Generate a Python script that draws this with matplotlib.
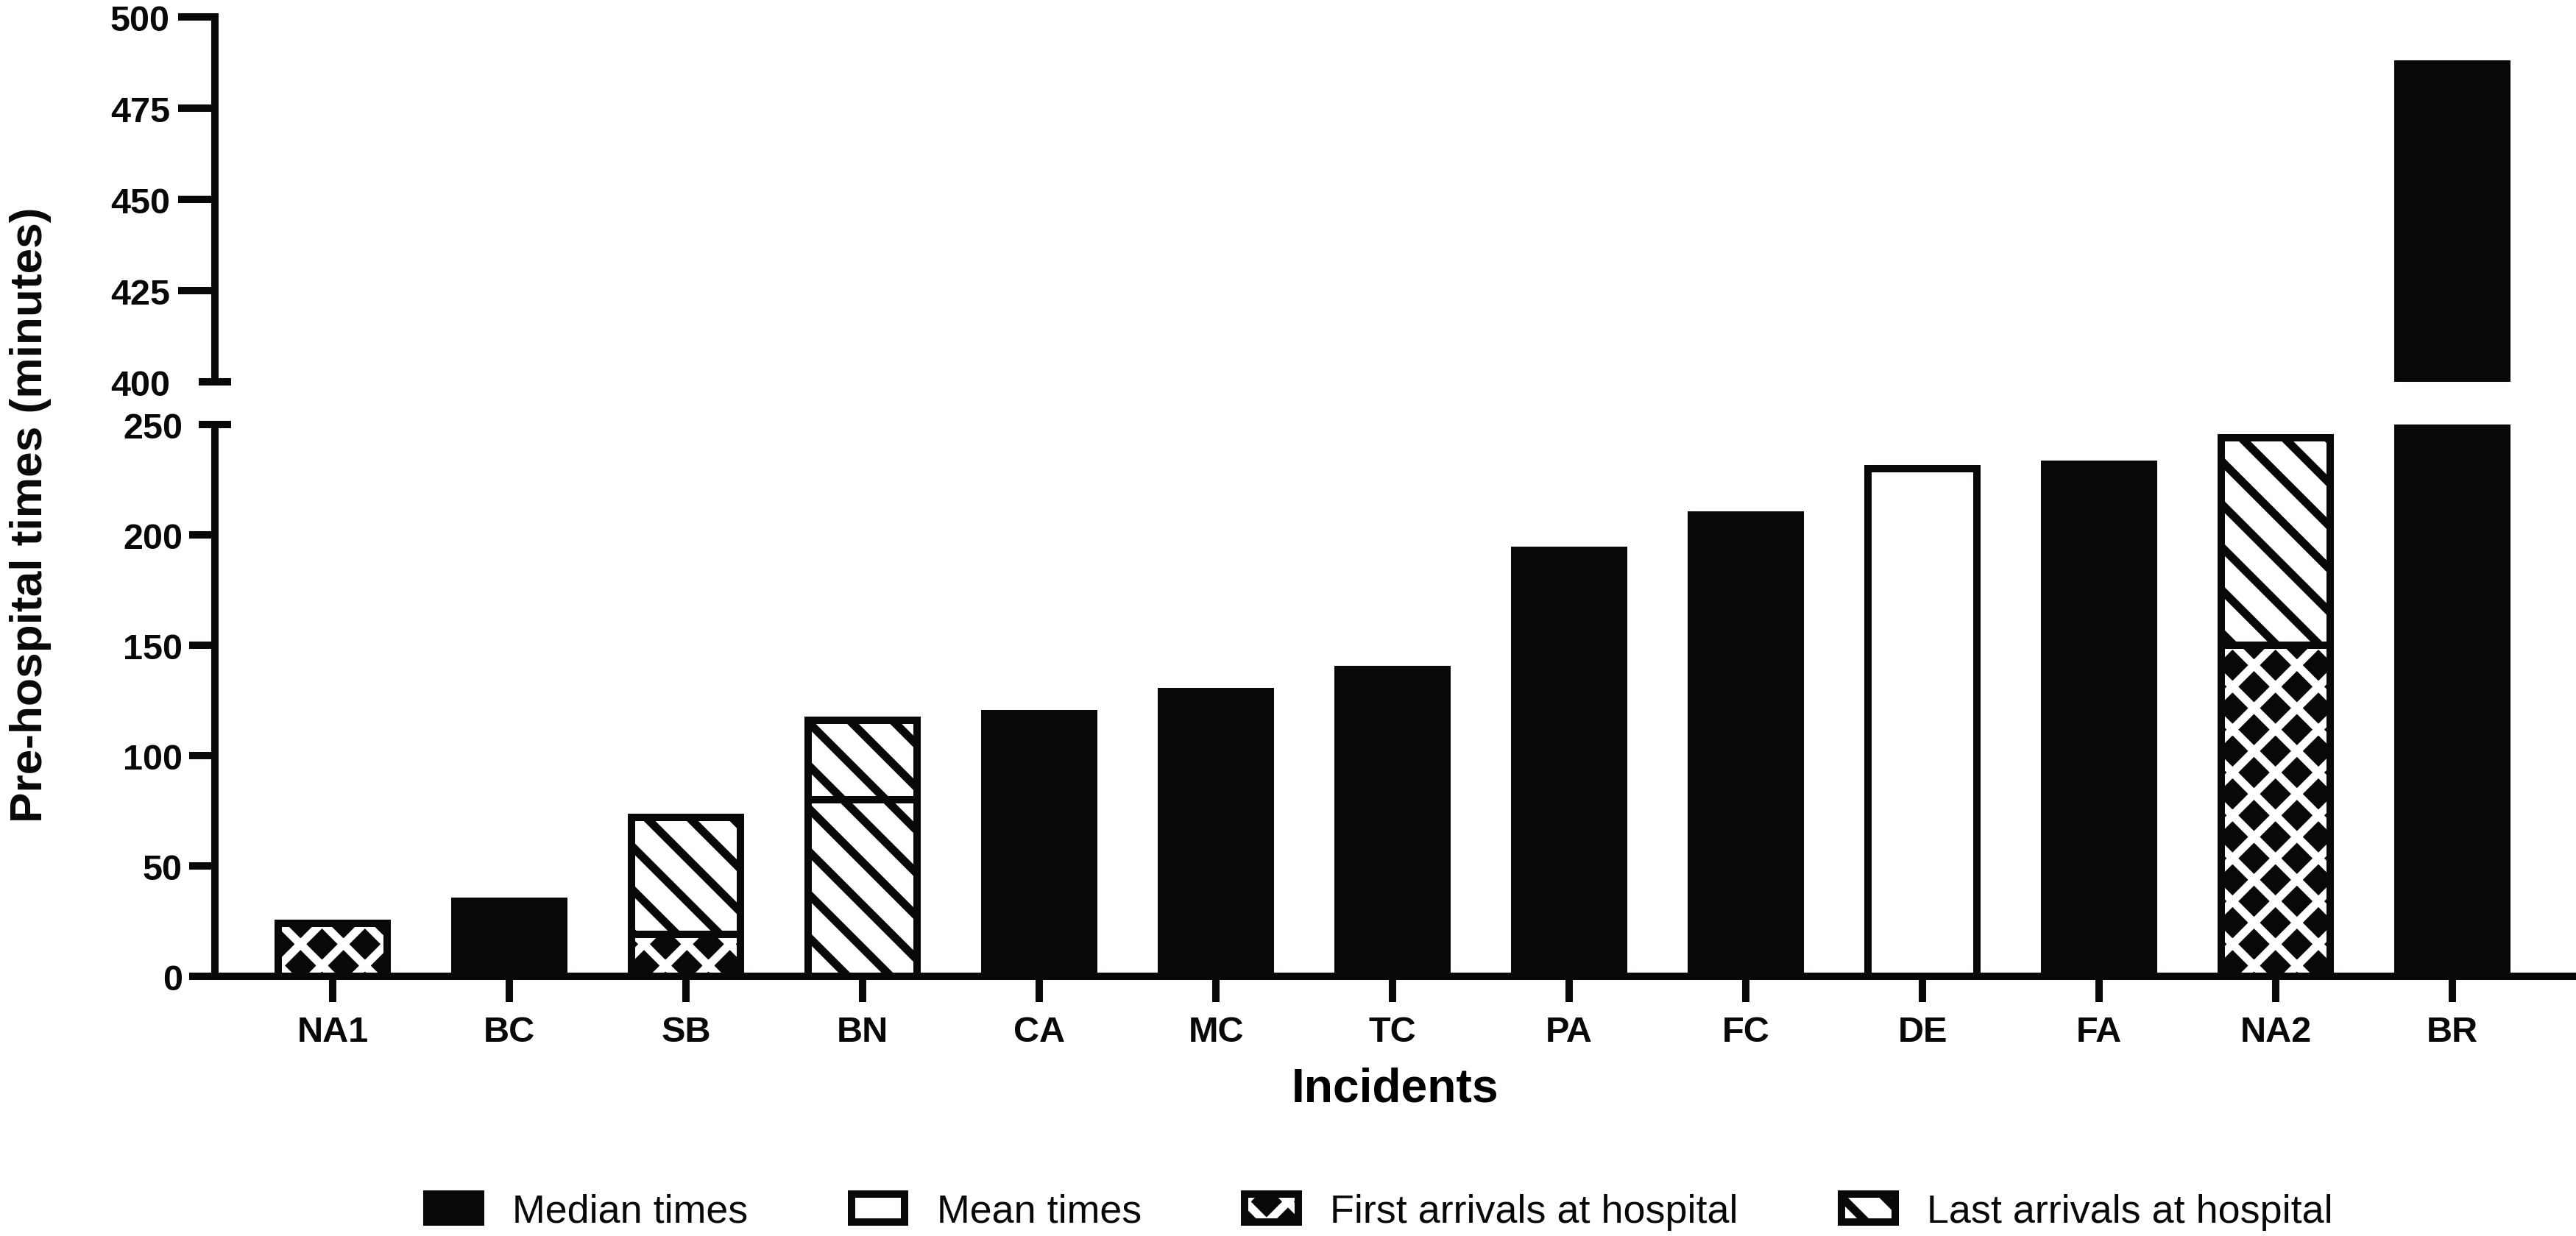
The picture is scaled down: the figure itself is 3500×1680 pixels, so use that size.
import numpy as np
import matplotlib.pyplot as plt
from matplotlib.patches import Patch

# data (minutes)
incidents = ['NA1', 'BC', 'SB', 'BN', 'CA', 'MC', 'TC', 'PA', 'FC', 'DE', 'FA', 'NA2', 'BR']
median_times = [np.nan, 34, np.nan, np.nan, 119, 129, 139, 193, 209, np.nan, 232, np.nan, 487]
mean_times = [np.nan, np.nan, np.nan, np.nan, np.nan, np.nan, np.nan, np.nan, np.nan, 230, np.nan, np.nan, np.nan]
first_arrivals = [24, np.nan, 19, 80, np.nan, np.nan, np.nan, np.nan, np.nan, np.nan, np.nan, 150, np.nan]
last_arrivals = [np.nan, np.nan, 72, 116, np.nan, np.nan, np.nan, np.nan, np.nan, np.nan, np.nan, 244, np.nan]

INK = '#0a0709'
DPI = 350
LW = 2.06      # bar edges / spines (pt)
W = 0.62       # bar width
CROSS = 'xx'
DIAG = '\\\\'

plt.rcParams['font.family'] = ['Liberation Sans', 'DejaVu Sans']
plt.rcParams['hatch.linewidth'] = 2.3
plt.rcParams['text.color'] = INK
plt.rcParams['xtick.color'] = INK
plt.rcParams['ytick.color'] = INK

x = np.arange(len(incidents))
med = np.array(median_times, dtype=float)
mean = np.array(mean_times, dtype=float)
first = np.array(first_arrivals, dtype=float)
last = np.array(last_arrivals, dtype=float)

has_med = ~np.isnan(med)
has_mean = ~np.isnan(mean)
has_first = ~np.isnan(first)
has_last = ~np.isnan(last)
# in the original, BN's first-arrival segment uses the diagonal pattern too
cross = has_first & (np.array(incidents) != 'BN')
diag_first = has_first & ~cross


def draw_bars(ax):
    ax.bar(x[has_med], med[has_med], W, color=INK, edgecolor=INK, linewidth=LW)
    ax.bar(x[has_mean], mean[has_mean], W, facecolor='white', edgecolor=INK, linewidth=LW)
    # first arrivals: black with white cross-hatch
    ax.bar(x[cross], first[cross], W, color=INK, linewidth=0)
    ax.bar(x[cross], first[cross], W, facecolor='none', edgecolor='white', hatch=CROSS, linewidth=0)
    ax.bar(x[cross], first[cross], W, fill=False, edgecolor=INK, linewidth=LW)
    ax.bar(x[diag_first], first[diag_first], W, facecolor='white', edgecolor=INK,
           hatch=DIAG, linewidth=LW)
    # last arrivals stacked above first arrivals
    ax.bar(x[has_last], (last - first)[has_last], W, bottom=first[has_last],
           facecolor='white', edgecolor=INK, hatch=DIAG, linewidth=LW)


fig = plt.figure(figsize=(3500 / DPI, 1681 / DPI), dpi=DPI)
left = 292 / 3500
ax_top = fig.add_axes([left, 0.69066, 1 - left, 0.29506])
ax_bot = fig.add_axes([left, 0.20999, 1 - left, 0.44616])

for ax in (ax_top, ax_bot):
    draw_bars(ax)
    ax.set_xlim(-0.667, 12.7)
    ax.spines['top'].set_visible(False)
    ax.spines['right'].set_visible(False)
    ax.spines['left'].set_linewidth(LW)
    ax.spines['bottom'].set_linewidth(LW)
    ax.spines['left'].set_color(INK)
    ax.spines['bottom'].set_color(INK)

# upper panel
ax_top.set_ylim(400, 500)
ax_top.spines['bottom'].set_visible(False)
ax_top.set_yticks([400, 425, 450, 475, 500], ['400', '425', '450', '475', '500'],
                  fontweight='bold')
ax_top.tick_params(axis='y', length=10.3, width=LW, pad=2.26, labelsize=10)
ax_top.tick_params(axis='x', bottom=False, labelbottom=False)

# lower panel
ax_bot.set_ylim(0, 250)
ax_bot.set_yticks([0, 50, 100, 150, 200, 250], ['0', '50', '100', '150', '200', '250'],
                  fontweight='bold')
ax_bot.tick_params(axis='y', length=7.2, width=LW, pad=1.85, labelsize=10)
ax_bot.set_xticks(x, incidents, fontweight='bold')
ax_bot.tick_params(axis='x', length=7.2, width=LW, pad=3.7, labelsize=10)

# axis-break ticks straddle the spine
for t in (ax_top.yaxis.get_major_ticks()[0], ax_bot.yaxis.get_major_ticks()[-1]):
    t.tick1line.set_marker('_')
    t.tick1line.set_markersize(8.85)

ax_bot.set_xlabel('Incidents', fontsize=13.2, fontweight='bold')
ax_bot.xaxis.set_label_coords(0.5, -0.163)
fig.text(42 / 3500, 1 - 700 / 1681, 'Pre-hospital times (minutes)', rotation=90,
         ha='center', va='center', fontsize=12.8, fontweight='bold')

handles = [
    Patch(facecolor=INK, edgecolor=INK, linewidth=LW),
    Patch(facecolor='white', edgecolor=INK, linewidth=LW),
    (Patch(facecolor=INK, linewidth=0),
     Patch(facecolor='none', edgecolor='white', hatch=CROSS, linewidth=0),
     Patch(fill=False, edgecolor=INK, linewidth=LW)),
    Patch(facecolor='white', edgecolor=INK, hatch=DIAG, linewidth=LW),
]
labels = ['Median times', 'Mean times', 'First arrivals at hospital', 'Last arrivals at hospital']
fig.legend(handles, labels, loc='center left', bbox_to_anchor=(580 / 3500, 1 - 1648 / 1681),
           ncol=4, frameon=False, fontsize=11.1, handlelength=1.35, handleheight=0.72,
           handletextpad=0.8, columnspacing=2.6, borderpad=0, borderaxespad=0)

fig.savefig('out.png', dpi=DPI)
